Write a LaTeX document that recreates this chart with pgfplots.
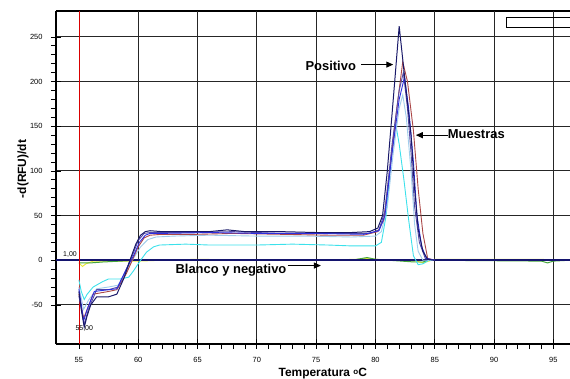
\documentclass[border=0pt]{standalone}
\usepackage{pgfplots}
\pgfplotsset{compat=1.18}
\usepackage{fontspec}
\setmainfont{Liberation Sans}
\usetikzlibrary{calc,arrows.meta}
\definecolor{navyc}{RGB}{25,25,105}
\definecolor{redc}{RGB}{170,70,70}
\definecolor{bluec}{RGB}{45,45,225}
\definecolor{purpc}{RGB}{85,75,165}
\definecolor{lbluec}{RGB}{160,205,235}
\definecolor{cyanc}{RGB}{60,225,235}
\definecolor{yelc}{RGB}{235,235,60}
\definecolor{grnc}{RGB}{70,165,60}
\definecolor{zeroc}{RGB}{20,20,110}
\begin{document}
\begin{tikzpicture}
\begin{axis}[
  name=ax,
  scale only axis,
  width=514bp, height=333bp,
  xmin=53.07, xmax=96.4, ymin=-93.8, ymax=279,
  axis x line=box, axis y line=left,
  xtick pos=bottom,
  axis line style={black, line width=1.1pt, -},
  xtick={55,60,...,95}, ytick={-50,0,...,250},
  minor x tick num=4, minor y tick num=4,
  tick align=center,
  major tick length=10bp, minor tick length=5bp,
  minor x tick style={yshift=-2.5bp},
  minor y tick style={xshift=-2.5bp},
  tick style={black, line width=0.7pt},
  ymajorgrids=true, xmajorgrids=false,
  extra x ticks={60,65,...,95}, extra x tick labels={},
  extra x tick style={xmajorgrids=true},
  major grid style={black!85, line width=1.1pt},
  /pgf/number format/assume math mode=true,
  ticklabel style={font=\fontsize{7.5}{8}\selectfont},
  xticklabel style={yshift=-5bp},
  yticklabel style={xshift=-5bp},
  xlabel={\textbf{Temperatura \raisebox{0.35ex}{\fontsize{8}{8}\selectfont o}C}},
  ylabel={\textbf{-d(RFU)/dt}},
  every axis x label/.style={at={(rel axis cs:0.519,-0.088)}, anchor=center, font=\fontsize{12}{14}\selectfont},
  every axis y label/.style={at={(rel axis cs:-0.0642,0.5255)}, rotate=90, anchor=center, font=\fontsize{12}{14}\selectfont},
  clip=false,
]
% yellow
\addplot[yelc, line width=1pt] coordinates {
(55,-3) (55.3,-7) (55.6,-4) (56.2,-1) (58,-1) (60,-1) (62,0) (65,1) (70,0) (75,0) (78.5,1) (79.3,2) (80,1) (83.5,-1) (84,-3) (84.5,-1) (85,1) (90,1) (94,1) (95,0) (96.4,0)};
% green
\addplot[grnc, line width=1pt] coordinates {
(55,-3) (56,-3) (57,-2) (60,0) (78,0) (79.3,3) (80,1) (83.3,-2) (84,-2) (84.5,0) (94,-1) (94.5,-3) (95,-1) (96.4,0)};
% zero baseline
\addplot[zeroc, line width=1.6pt] coordinates {(53.07,0) (96.4,0)};
% red vertical line at 55
\addplot[red!85!black, line width=0.5pt] coordinates {(55,-93.8) (55,279)};
% cyan
\addplot[cyanc, line width=0.9pt] coordinates {
(55.0,-22) (55.2,-35) (55.45,-44) (55.7,-38) (56.2,-30) (57,-24) (57.5,-21) (58.5,-21) (59.2,-19) (59.6,-12) (60.2,0) (60.7,9) (61.3,15) (61.8,17) (64,18) (66,17) (70,17) (73,18) (76,17) (78,16) (80,16) (80.5,20) (80.9,50) (81.3,110) (81.7,153) (82.0,130) (82.4,90) (82.8,45) (83.2,5) (83.6,-5) (84.0,-4) (84.5,0) (85,0)};
% light blue
\addplot[lbluec, line width=0.9pt] coordinates {
(55.0,-30) (55.4,-55) (55.8,-45) (56.5,-32) (57.5,-30) (58.3,-28) (59,-12) (59.6,2) (60.2,15) (60.8,23) (61.5,26) (63,27) (66,28) (70,27) (74,27) (78,26) (80,27) (80.5,32) (81,60) (81.5,120) (82.0,170) (82.3,185) (82.6,160) (83.0,100) (83.3,40) (83.6,10) (84,0) (85,0)};
% red
\addplot[redc, line width=0.9pt] coordinates {
(55.0,-38) (55.4,-65) (55.7,-55) (56.2,-38) (57.5,-35) (58.2,-33) (59,-15) (59.5,0) (60,15) (60.5,25) (61,28) (62,29) (65,29) (68,30) (72,29) (76,28) (79,28) (80.2,32) (80.7,45) (81.2,100) (81.8,170) (82.3,222) (82.7,200) (83.2,145) (83.6,80) (84.0,30) (84.4,2) (85,0)};
% purple
\addplot[purpc, line width=0.9pt] coordinates {
(55.0,-40) (55.45,-72) (55.8,-55) (56.5,-33) (57.5,-33) (58.3,-30) (59,-10) (59.5,5) (60,22) (60.5,30) (61,31) (64,31) (68,32) (72,30) (76,30) (79.5,30) (80.3,34) (80.8,55) (81.4,130) (82.0,190) (82.35,210) (82.7,170) (83.0,120) (83.3,60) (83.7,20) (84.2,2) (85,0)};
% blue
\addplot[bluec, line width=0.9pt] coordinates {
(55.0,-32) (55.4,-68) (55.7,-55) (56.3,-35) (57.5,-33) (58.2,-32) (59,-10) (59.6,5) (60.1,20) (60.6,28) (61,30) (62,30) (66,31) (70,30) (75,30) (79,29) (80.3,33) (80.8,50) (81.4,120) (82.0,180) (82.45,205) (82.8,170) (83.2,110) (83.5,50) (83.9,15) (84.3,2) (85,0)};
% navy positive
\addplot[navyc, line width=1pt] coordinates {
(55.0,-35) (55.2,-55) (55.45,-75) (55.7,-62) (56.0,-50) (56.5,-41) (57.5,-41) (58.2,-38) (58.8,-20) (59.3,0) (59.8,18) (60.2,28) (60.6,32) (61.0,33) (62,32) (64,32) (66,32) (67.5,34) (69,32) (72,32) (75,31) (78,31) (79.5,32) (80.2,36) (80.6,50) (81.0,100) (81.5,180) (82.0,262) (82.5,200) (83.0,140) (83.3,80) (83.6,35) (84.0,10) (84.4,1) (85,0)};
% annotations
\draw[black, line width=0.8pt] (axis cs:91,261) rectangle (axis cs:96.4,272);
\node[font=\fontsize{13}{15}\selectfont\bfseries, anchor=base] at (axis cs:76.23,212.8) {Positivo};
\draw[-{Triangle[length=7bp,width=6bp]}, line width=1pt] (axis cs:78.8,219) -- (axis cs:81.5,219);
\node[font=\fontsize{13}{15}\selectfont\bfseries, anchor=base] at (axis cs:88.5,136) {Muestras};
\draw[-{Triangle[length=7bp,width=6bp]}, line width=1pt] (axis cs:86.1,140) -- (axis cs:83.4,140);
\node[font=\fontsize{13}{15}\selectfont\bfseries, anchor=base] at (axis cs:67.82,-14.9) {Blanco y negativo};
\draw[-{Triangle[length=7bp,width=6bp]}, line width=1pt] (axis cs:72.6,-6) -- (axis cs:75.4,-6);
\node[font=\fontsize{7}{7}\selectfont] at (axis cs:54.25,6.7) {1,00};
\node[font=\fontsize{7}{7}\selectfont] at (axis cs:55.45,-76.5) {55,00};
\end{axis}
\pgfresetboundingbox
\path[use as bounding box] ($(ax.south west)+(-56bp,-35bp)$) rectangle ($(ax.north east)+(0bp,11bp)$);
\end{tikzpicture}
\end{document}
